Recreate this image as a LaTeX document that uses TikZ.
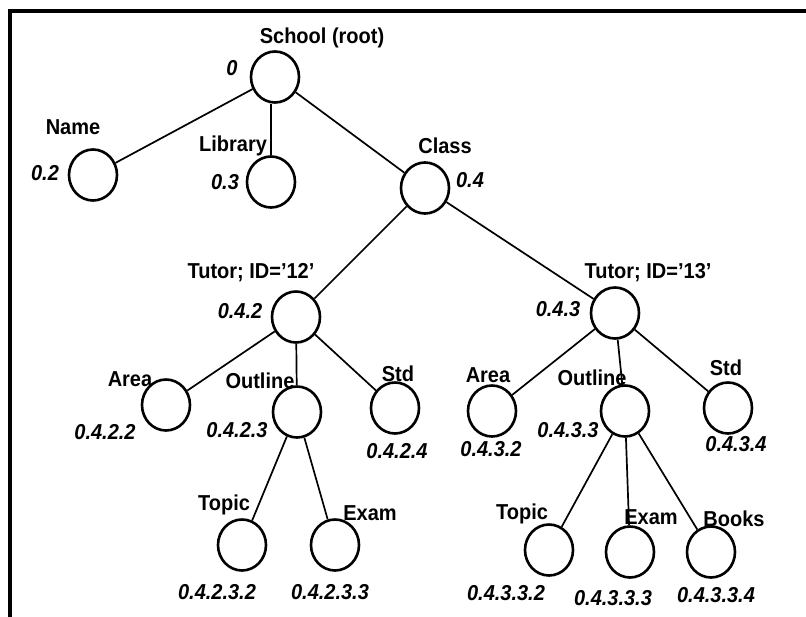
\documentclass[tikz,border=0pt]{standalone}
\usepackage{fontspec}
\setmainfont{Liberation Sans}
\usetikzlibrary{shapes.geometric}
\newcommand{\tall}[1]{\scalebox{1}[1.08]{#1}}
\begin{document}
\begin{tikzpicture}[x=1pt,y=-1pt,
  nd/.style={draw,ellipse,line width=2.6pt,minimum width=48pt,minimum height=51pt,inner sep=0pt},
  edge/.style={line width=1.7pt},
  lbl/.style={font=\fontsize{20}{23}\selectfont\bfseries,inner sep=0pt},
  num/.style={font=\fontsize{20}{23}\selectfont\bfseries\itshape,inner sep=0pt}]
\useasboundingbox (0,0) rectangle (806,616);
\draw[line width=4pt] (10,630) -- (10,10.5) -- (820,10.5);
% nodes
\node[nd] (school) at (275,77) {};
\node[nd] (name) at (93,175) {};
\node[nd] (library) at (271,182) {};
\node[nd] (class) at (425,188) {};
\node[nd] (t12) at (296,317) {};
\node[nd] (t13) at (615,313) {};
\node[nd] (areaL) at (166,405) {};
\node[nd] (outL) at (297,412) {};
\node[nd] (stdL) at (395,408) {};
\node[nd] (areaR) at (492,411) {};
\node[nd] (outR) at (625,411) {};
\node[nd] (stdR) at (728,408) {};
\node[nd] (topicL) at (242,545) {};
\node[nd] (examL) at (335,545) {};
\node[nd] (topicR) at (549,550) {};
\node[nd] (examR) at (630,552) {};
\node[nd] (booksR) at (711,552) {};
% edges
\draw[edge] (school) -- (name);
\draw[edge] (school.south -| library) -- (library);
\draw[edge] (school) -- (class);
\draw[edge] (class) -- (t12);
\draw[edge] (class) -- (t13);
\draw[edge] (t12) -- (areaL);
\draw[edge] (t12) -- (outL);
\draw[edge] (t12) -- (stdL);
\draw[edge] (t13) -- (areaR);
\draw[edge] (t13) -- (outR);
\draw[edge] (t13) -- (stdR);
\draw[edge] (outL) -- (topicL);
\draw[edge] (outL) -- (examL);
\draw[edge] (outR) -- (topicR);
\draw[edge] (outR) -- (examR);
\draw[edge] (outR) -- (booksR);
% labels
\node[lbl] (lschool) at (322,38) {\tall{School (root)}};
\node[num] (nschool) at (232,68) {\tall{0}};
\node[lbl] (lname) at (73,127) {\tall{Name}};
\node[num] (nname) at (45,173) {\tall{0.2}};
\node[lbl] (llib) at (233,146) {\tall{Library}};
\node[num] (nlib) at (225,182) {\tall{0.3}};
\node[lbl] (lclass) at (445,146) {\tall{Class}};
\node[num] (nclass) at (470,180) {\tall{0.4}};
\node[lbl] (lt12) at (251,273) {\tall{Tutor; ID='12'}};
\node[num] (nt12) at (240,311) {\tall{0.4.2}};
\node[lbl] (lt13) at (648,273) {\tall{Tutor; ID='13'}};
\node[num] (nt13) at (558,309) {\tall{0.4.3}};
\node[lbl] (lareaL) at (130,379) {\tall{Area}};
\node[num] (nareaL) at (105,432) {\tall{0.4.2.2}};
\node[lbl] (loutL) at (260,381) {\tall{Outline}};
\node[num] (noutL) at (237,430) {\tall{0.4.2.3}};
\node[lbl] (lstdL) at (398,374) {\tall{Std}};
\node[num] (nstdL) at (397,451) {\tall{0.4.2.4}};
\node[lbl] (lareaR) at (488,375) {\tall{Area}};
\node[num] (nareaR) at (491,449) {\tall{0.4.3.2}};
\node[lbl] (loutR) at (592,378) {\tall{Outline}};
\node[num] (noutR) at (568,430) {\tall{0.4.3.3}};
\node[lbl] (lstdR) at (726,368) {\tall{Std}};
\node[num] (nstdR) at (736,444) {\tall{0.4.3.4}};
\node[lbl] (ltopicL) at (224,505) {\tall{Topic}};
\node[lbl] (lexamL) at (370,513) {\tall{Exam}};
\node[num] (ntopicL) at (217,592) {\tall{0.4.2.3.2}};
\node[num] (nexamL) at (330,592) {\tall{0.4.2.3.3}};
\node[lbl] (ltopicR) at (522,514) {\tall{Topic}};
\node[lbl] (lexamR) at (651,517) {\tall{Exam}};
\node[lbl] (lbooksR) at (734,519) {\tall{Books}};
\node[num] (ntopicR) at (506,593) {\tall{0.4.3.3.2}};
\node[num] (nexamR) at (613,598) {\tall{0.4.3.3.3}};
\node[num] (nbooksR) at (716,595) {\tall{0.4.3.3.4}};
\end{tikzpicture}
\end{document}
